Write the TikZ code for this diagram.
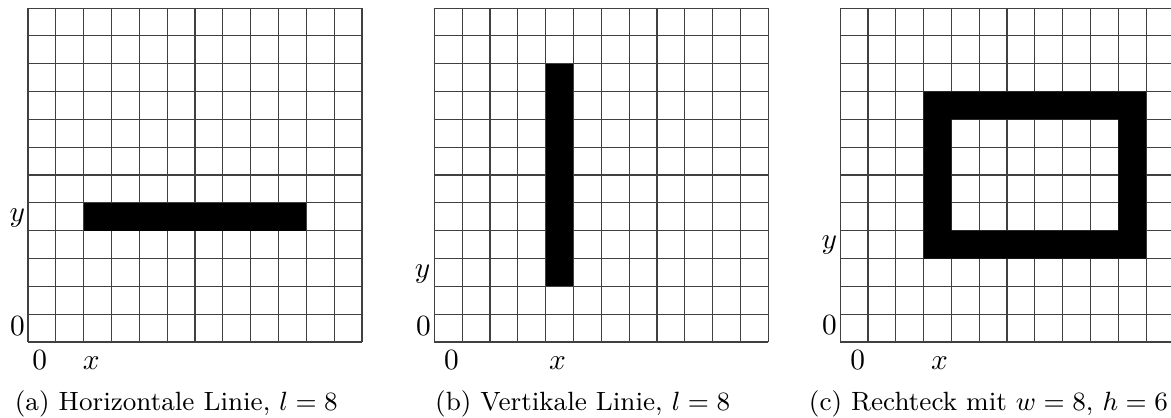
\documentclass[tikz,border=0pt]{standalone}
\usepackage{amsmath, amssymb}
\usepackage{xcolor}
\usepackage{tikz}

\begin{document}
\begin{tikzpicture}[
  x=0.3333cm, y=0.3333cm,
  every node/.style={font=\normalsize},
  gridline/.style={draw=black!75, line width=0.4pt},
  pixel/.style={fill=black},
  sidelabel/.style={inner sep=0pt},
  baselabel/.style={inner sep=0pt, anchor=base},
  subcap/.style={inner sep=0pt, anchor=base, font=\small}
]
  \useasboundingbox (-1.006,-2.695) rectangle (41.07,12.29);

  % (a) horizontal line
  \begin{scope}
    \draw[gridline] (0,0) grid[step=1] (12,12);
    \fill[pixel] (2,4) rectangle (10,5);
    \node[sidelabel] (ay) at (-0.38,4.46) {$y$};
    \node[sidelabel] (ay0) at (-0.38,0.58) {$0$};
    \node[baselabel] (ax0) at (0.42,-1) {$0$};
    \node[baselabel] (ax) at (2.27,-1) {$x$};
    \node[subcap] (capa) at (5.33,-2.47) {(a)\ Horizontale Linie, $l=8$};
  \end{scope}

  % (b) vertical line
  \begin{scope}[xshift=14.6*0.3333cm]
    \draw[gridline] (0,0) grid[step=1] (12,12);
    \fill[pixel] (4,2) rectangle (5,10);
    \node[sidelabel] (by) at (-0.42,2.45) {$y$};
    \node[sidelabel] (by0) at (-0.39,0.57) {$0$};
    \node[baselabel] (bx0) at (0.62,-1) {$0$};
    \node[baselabel] (bx) at (4.43,-1) {$x$};
    \node[subcap] (capb) at (5.33,-2.47) {(b)\ Vertikale Linie, $l=8$};
  \end{scope}

  % (c) rectangle outline
  \begin{scope}[xshift=29.18*0.3333cm]
    \draw[gridline] (0,0) grid[step=1] (12,12);
    \fill[pixel, even odd rule] (3,3) rectangle (11,9) (4,4) rectangle (10,8);
    \node[sidelabel] (cy) at (-0.39,3.5) {$y$};
    \node[sidelabel] (cy0) at (-0.38,0.6) {$0$};
    \node[baselabel] (cx0) at (0.63,-1) {$0$};
    \node[baselabel] (cx) at (3.57,-1) {$x$};
    \node[subcap] (capc) at (5.33,-2.47) {(c)\ Rechteck mit $w=8$, $h=6$};
  \end{scope}
\end{tikzpicture}
\end{document}
